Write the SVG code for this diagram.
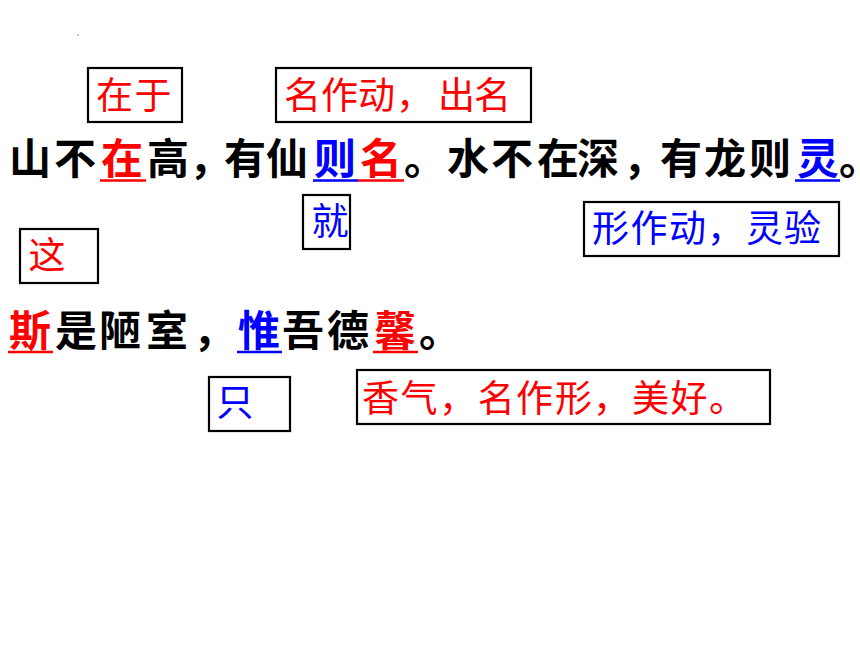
<svg xmlns="http://www.w3.org/2000/svg" width="860" height="645" viewBox="0 0 860 645">
<style>
.main{font-family:"Noto Sans CJK SC","Noto Sans CJK JP",sans-serif;font-size:42px;font-weight:700;fill:#000}
.lbl{font-family:"Noto Sans CJK SC","Noto Sans CJK JP",sans-serif;font-size:37px;font-weight:400}
.box{fill:#fff;stroke:#000;stroke-width:2.2}
.r{fill:#ff0000}
.b{fill:#0000ff}
.h{font-feature-settings:"halt"}
.ur{stroke:#ff0000;stroke-width:2.6}
.ub{stroke:#0000ff;stroke-width:2.6}
</style>
<rect width="860" height="645" fill="#fff"/>
<circle cx="78" cy="35" r="0.8" fill="#888"/>
<g id="connectors"/>
<g id="line1">
<text class="main" y="174"><tspan x="9">山</tspan><tspan x="54">不</tspan><tspan x="101" class="r">在</tspan><tspan x="147">高</tspan><tspan x="189" class="h">，</tspan><tspan x="224">有</tspan><tspan x="266">仙</tspan><tspan x="314" class="b">则</tspan><tspan x="360" class="r">名</tspan><tspan x="404">。</tspan><tspan x="447">水</tspan><tspan x="491">不</tspan><tspan x="537">在</tspan><tspan x="577">深</tspan><tspan x="623" class="h">，</tspan><tspan x="660">有</tspan><tspan x="704">龙</tspan><tspan x="749">则</tspan><tspan x="797" class="b">灵</tspan><tspan x="839" class="h">。</tspan></text>
<line class="ur" x1="100" y1="180.5" x2="146" y2="180.5"/>
<line class="ub" x1="313" y1="180.5" x2="358" y2="180.5"/>
<line class="ur" x1="358" y1="180.5" x2="404" y2="180.5"/>
<line class="ub" x1="795" y1="180.5" x2="840" y2="180.5"/>
</g>
<g id="line2">
<text class="main" y="346"><tspan x="9" class="r">斯</tspan><tspan x="55">是</tspan><tspan x="99">陋</tspan><tspan x="146">室</tspan><tspan x="193">，</tspan><tspan x="238" class="b">惟</tspan><tspan x="282">吾</tspan><tspan x="327">德</tspan><tspan x="374" class="r">馨</tspan><tspan x="419">。</tspan></text>
<line class="ur" x1="8" y1="352" x2="53" y2="352"/>
<line class="ub" x1="237" y1="352" x2="282" y2="352"/>
<line class="ur" x1="373" y1="352" x2="418" y2="352"/>
</g>
<g id="n-zaiyu">
<rect class="box" x="88" y="68" width="94" height="54"/>
<text class="lbl r" y="109"><tspan x="96">在</tspan><tspan x="134.5">于</tspan></text>
</g>
<g id="n-ming">
<rect class="box" x="276" y="68" width="255" height="54"/>
<text class="lbl r" y="109"><tspan x="284">名</tspan><tspan x="321">作</tspan><tspan x="358">动</tspan><tspan x="396">，</tspan><tspan x="438">出</tspan><tspan x="474">名</tspan></text>
</g>
<g id="n-jiu">
<rect class="box" x="303" y="195" width="47" height="54"/>
<text class="lbl b" x="311.5" y="235">就</text>
</g>
<g id="n-ling">
<rect class="box" x="584" y="202" width="255" height="54"/>
<text class="lbl b" y="242"><tspan x="592">形</tspan><tspan x="630.5">作</tspan><tspan x="669">动</tspan><tspan x="707">，</tspan><tspan x="746">灵</tspan><tspan x="784">验</tspan></text>
</g>
<g id="n-zhe">
<rect class="box" x="20" y="229" width="78" height="54"/>
<text class="lbl r" x="28.5" y="269">这</text>
</g>
<g id="n-zhi">
<rect class="box" x="209" y="377" width="81" height="54"/>
<text class="lbl b" x="216.5" y="416">只</text>
</g>
<g id="n-xin">
<rect class="box" x="357" y="370" width="413" height="54"/>
<text class="lbl r" y="412"><tspan x="362">香</tspan><tspan x="400.6">气</tspan><tspan x="439">，</tspan><tspan x="477.7">名</tspan><tspan x="516">作</tspan><tspan x="555">形</tspan><tspan x="593">，</tspan><tspan x="632">美</tspan><tspan x="670.6">好</tspan><tspan x="709">。</tspan></text>
</g>
</svg>
